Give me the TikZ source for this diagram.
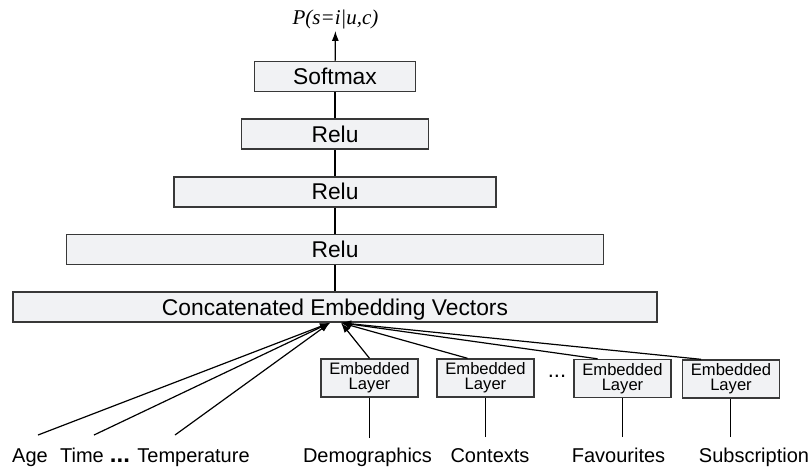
\documentclass[tikz,border=0pt]{standalone}
\usepackage{fontspec}
\setmainfont{Liberation Sans}
\newfontfamily\probfont{Liberation Serif}
\usetikzlibrary{positioning,arrows.meta}
\newdimen\layerGap
\layerGap=13pt
\definecolor{boxfill}{HTML}{F1F2F4}
\definecolor{boxline}{HTML}{383838}

\begin{document}
\begin{tikzpicture}[
    x=0.5pt,
    y=-0.5pt,
    layer/.style={%
      draw=boxline,
      fill=boxfill,
      line width=0.8pt,
      minimum height=15pt,
      inner sep=0pt,
      text height=8pt,
      text depth=0pt,
      font=\fontsize{11.4}{13}\selectfont,
    },
    embed/.style={%
      draw=boxline,
      fill=boxfill,
      line width=0.7pt,
      minimum width=48.5pt,
      minimum height=19pt,
      inner sep=0pt,
      align=center,
      font=\fontsize{8.3}{7.4}\selectfont,
    },
    feature/.style={%
      anchor=base,
      inner sep=0pt,
      font=\fontsize{10}{12}\selectfont,
    },
    link/.style={line width=0.6pt},
    feed/.style={line width=0.6pt, -{Latex[length=5pt,width=3.5pt]}},
  ]

    \useasboundingbox (0,0) rectangle (812,467);

    % network layers
    \node [layer, minimum width=322pt] (concat) at (335,307) {Concatenated Embedding Vectors};
    \node [layer, minimum width=268.5pt, above=\layerGap of concat] (relu3) {Relu};
    \node [layer, minimum width=161pt, above=\layerGap of relu3] (relu2) {Relu};
    \node [layer, minimum width=93.5pt, above=\layerGap of relu2] (relu1) {Relu};
    \node [layer, minimum width=80.5pt, above=\layerGap of relu1] (softmax) {Softmax};
    \node [inner sep=1pt, font=\fontsize{10.5}{12}\selectfont] (prob) at (335.5,19) {\probfont\itshape P(s=i|u,c)};

    \draw [link] (concat) -- (relu3);
    \draw [link] (relu3) -- (relu2);
    \draw [link] (relu2) -- (relu1);
    \draw [link] (relu1) -- (softmax);
    \draw [feed] (softmax) -- (prob);

    % embedded layers
    \node [embed] (el1) at (369.5,378) {Embedded\\Layer};
    \node [embed] (el2) at (485.5,378) {Embedded\\Layer};
    \node [embed] (el3) at (622.5,378.5) {Embedded\\Layer};
    \node [embed] (el4) at (731,379) {Embedded\\Layer};
    \node [font=\fontsize{11}{12}\selectfont, inner sep=0pt] (gap) at (557,376) {...};

    % features
    \node [feature] (age) at (30,462) {Age};
    \node [feature] (time) at (82,462) {Time};
    \node [feature, font=\fontsize{12}{12}\selectfont\bfseries] (more) at (120,462) {...};
    \node [feature] (temp) at (193.5,462) {Temperature};
    \node [feature] (demo) at (367.5,462) {Demographics};
    \node [feature] (ctx) at (490,462) {Contexts};
    \node [feature] (fav) at (618.5,462) {Favourites};
    \node [feature] (sub) at (754,462) {Subscription};

    \coordinate (agetop) at (38,435);
    \coordinate (timetop) at (94,435);
    \coordinate (temptop) at (175,435);
    \coordinate (demotop) at (369.5,438);
    \coordinate (ctxtop) at (485.5,437);
    \coordinate (favtop) at (622.5,437);
    \coordinate (subtop) at (730.5,437);

    \coordinate (inhub) at ([xshift=-2.5pt]concat.south);
    \coordinate (embhub) at ([xshift=3pt]concat.south);

    \draw [feed] (agetop) -- (inhub);
    \draw [feed] (timetop) -- (inhub);
    \draw [feed] (temptop) -- (inhub);

    \draw [link] (demotop) -- (el1);
    \draw [link] (ctxtop) -- (el2);
    \draw [link] (favtop) -- (el3);
    \draw [link] (subtop) -- (subtop |- el4.south);

    \draw [feed] (el1.north) -- (embhub);
    \draw [feed] ([xshift=-9pt]el2.north) -- (embhub);
    \draw [feed] ([xshift=-12.5pt]el3.north) -- (embhub);
    \draw [feed] ([xshift=-15pt]el4.north) -- (embhub);

\end{tikzpicture}
\end{document}
